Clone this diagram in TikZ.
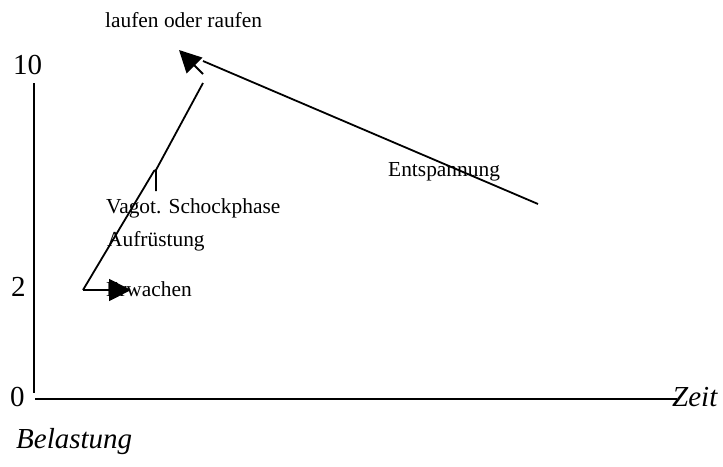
\documentclass[tikz,border=0pt]{standalone}
\usepackage{fontspec}
\setmainfont{Liberation Serif}
\usetikzlibrary{arrows.meta}
\tikzset{
  lbl/.style={anchor=base west,inner sep=0pt,font=\fontsize{21.4}{25}\selectfont},
  big/.style={anchor=base west,inner sep=0pt,font=\fontsize{29}{34}\selectfont},
  bigit/.style={anchor=base west,inner sep=0pt,font=\fontsize{29}{34}\selectfont\itshape},
  ln/.style={line width=1.8pt,line cap=butt},
  tri/.style={-{Triangle[length=22pt,width=22pt]}}
}
\begin{document}
\begin{tikzpicture}[x=1pt,y=-1pt]
\useasboundingbox (0,0) rectangle (723,466);
% labels
\node[lbl] (lauf) at (105,27) {laufen oder raufen};
\node[lbl] (ent) at (388,176) {Entspannung};
\node[lbl] (vag) at (106,213) {Vagot. Schockphase};
\node[lbl] (auf) at (107,246) {Aufrüstung};
\node[lbl] (erw) at (106,296) {Erwachen};
\node[big] (n10) at (13,74) {10};
\node[big] (n2) at (11,296) {2};
\node[big] (n0) at (10,406) {0};
\node[bigit] (zeit) at (672,406) {Zeit};
\node[bigit] (bel) at (16,448) {Belastung};
% coordinates
\coordinate (ytop) at (34,83);
\coordinate (ybot) at (34,393);
\coordinate (xl) at (35,399);
\coordinate (xr) at (677,399);
\coordinate (start) at (83,290);
\coordinate (ea) at (131,290);
\coordinate (k1) at (154,171);
\coordinate (k2) at (156,170);
\coordinate (kb) at (156,191);
\coordinate (up) at (203,83);
\coordinate (sb) at (203,74);
\coordinate (tip) at (179,50);
\coordinate (le) at (538,204);
\coordinate (ls) at (203,61);
% axes
\draw[ln] (ytop) -- (ybot);
\draw[ln] (xl) -- (xr);
% curve
\draw[ln,tri] (start) -- (ea);
\draw[ln] (start) -- (k1) -- (k2);
\draw[ln] (kb) -- (k2) -- (up);
\draw[ln,tri] (sb) -- (tip);
\draw[ln] (le) -- (ls);
\end{tikzpicture}
\end{document}
